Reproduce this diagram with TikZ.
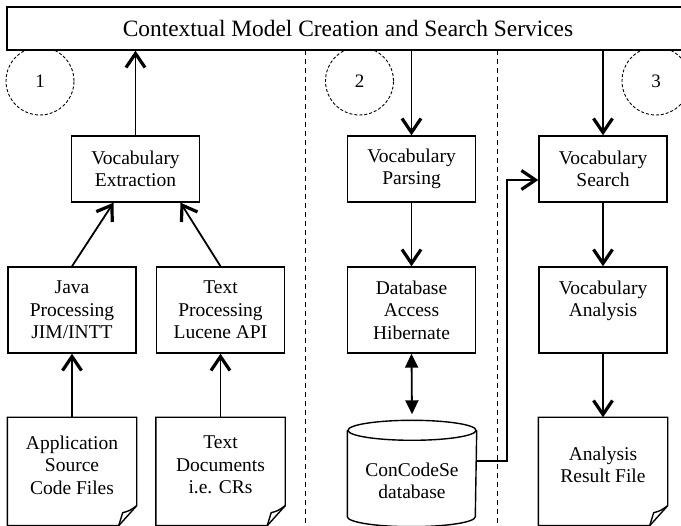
\documentclass[tikz,border=0pt]{standalone}
\usepackage{fontspec}
\setmainfont{Liberation Serif}
\usepackage{tikz}
\usetikzlibrary{arrows.meta}
\tikzstyle{box} = [draw, rectangle, line width=1.4pt, minimum width=128pt, inner sep=0pt, align=center, font=\fontsize{19.5}{22.5}\selectfont]
\tikzstyle{process} = [box, minimum height=66pt]
\tikzstyle{tool} = [box, minimum height=86pt]
\tikzstyle{document} = [box, draw=none, minimum height=94pt]
\tikzstyle{phase} = [draw, circle, line width=0.9pt, dash pattern=on 3pt off 2pt, minimum size=68pt, font=\fontsize{19}{22}\selectfont]
\tikzstyle{divider} = [line width=1pt, dash pattern=on 5pt off 4pt]
\tikzstyle{arrow} = [line width=1.8pt, line join=miter, -{Straight Barb[length=14pt,width=19pt,line width=3.2pt]}]
\tikzstyle{both} = [line width=1.8pt, {Triangle[length=14pt,width=13pt]}-{Triangle[length=14pt,width=13pt]}]

% page with a folded corner round a document node
\newcommand{\docoutline}[1]{%
	\draw[line width=1.4pt] (#1.north west) -- (#1.north east) -- ([yshift=7pt]#1.south east)
		-- ([xshift=-18pt,yshift=-13pt]#1.south east) -- ([yshift=-13pt]#1.south west) -- cycle;
	\draw[line width=1.4pt] ([yshift=7pt]#1.south east) .. controls ([xshift=-7pt,yshift=2pt]#1.south east) .. ([xshift=-14pt]#1.south east)
		-- ([xshift=-18pt,yshift=-13pt]#1.south east);
}

\begin{document}
\begin{tikzpicture}[x=1pt,y=-1pt]
	\useasboundingbox (0,0) rectangle (681,526);
	\clip (0,0) rectangle (681,526);

	% Phases:
	\node[phase] (phase1) at (40,81) {1};
	\node[phase] (phase2) at (359.5,81) {2};
	\node[phase] (phase3) at (656,81) {3};

	\node[draw, fill=white, line width=1.4pt, minimum width=682pt, minimum height=43pt,
		font=\fontsize{23.4}{28}\selectfont] (services) at (348,28.5) {Contextual Model Creation and Search Services};

	\draw[divider] (305,50) -- (305,526);
	\draw[divider] (497,50) -- (497,526);

	% 1: extraction
	\node[process] (extract) at (135.5,169) {Vocabulary\\Extraction};
	\node[tool] (java) at (72,310) {Java\\Processing\\JIM/INTT};
	\node[tool] (textproc) at (220.5,310) {Text\\Processing\\Lucene API};
	\node[document] (source) at (72,465) {Application\\Source\\Code Files};
	\node[document] (textdocs) at (220.5,465) {Text\\Documents\\i.e. CRs};
	\docoutline{source}
	\docoutline{textdocs}

	% 2: parsing
	\node[process] (parse) at (411.5,169) {Vocabulary\\Parsing};
	\node[tool] (access) at (411.5,310) {Database\\Access\\Hibernate};
	\node[box, draw=none, minimum height=90pt] (concodese) at (412,481) {ConCodeSe\\database};
	\draw[line width=1.4pt] ([yshift=5pt]concodese.north west) -- ([yshift=10pt]concodese.south west)
		arc[start angle=180, end angle=360, x radius=64pt, y radius=10pt] -- ([yshift=5pt]concodese.north east);
	\draw[line width=1.4pt] ([yshift=5pt]concodese.north) ellipse [x radius=64pt, y radius=10pt];

	% 3: search
	\node[process] (search) at (603,169) {Vocabulary\\Search};
	\node[tool] (analysis) at (603,310) {Vocabulary\\Analysis\\~};
	\node[document] (result) at (603,465) {Analysis\\Result File};
	\docoutline{result}

	% Connectors:
	\draw[arrow] (extract.north) -- (extract.north |- services.south);
	\draw[arrow] (java.north) -- ([xshift=-22pt]extract.south);
	\draw[arrow] (textproc.north) -- ([xshift=45pt]extract.south);
	\draw[arrow] (source.north) -- (java.south);
	\draw[arrow] (textdocs.north) -- (textproc.south);

	\draw[arrow] (parse.north |- services.south) -- (parse.north);
	\draw[arrow] (parse.south) -- (access.north);
	\draw[both] (access.south) -- ([yshift=21pt]concodese.north);

	\coordinate (turn) at (507,180);
	\draw[arrow] ([yshift=20pt]concodese.east) -| (turn) -- ([yshift=-11pt]search.west);

	\draw[arrow] (search.north |- services.south) -- (search.north);
	\draw[arrow] (search.south) -- (analysis.north);
	\draw[arrow] (analysis.south) -- (result.north);
\end{tikzpicture}
\end{document}
